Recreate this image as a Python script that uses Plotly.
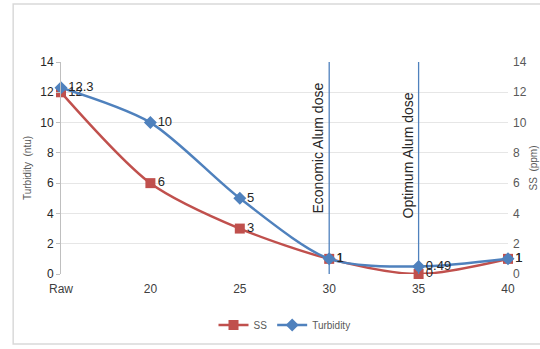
import plotly.graph_objects as go

# Alum dose categories and measured values
doses = ["Raw", "20", "25", "30", "35", "40"]
ss_values = [12, 6, 3, 1, 0, 1]
turbidity_values = [12.3, 10, 5, 1, 0.49, 1]
y_ticks = [0, 2, 4, 6, 8, 10, 12, 14]
dose_lines = [3, 4]
dose_line_labels = ["Economic Alum dose", "Optimum Alum dose"]
dose_label_centres = [8.3, 7.8]

RED = "#c0504d"
BLUE = "#4f81bd"
xs = list(range(len(doses)))

fig = go.Figure()

fig.add_trace(go.Scatter(
    x=xs, y=ss_values, name="SS", mode="lines+markers+text",
    line=dict(color=RED, width=2.5, shape="spline", smoothing=0.8),
    marker=dict(symbol="square", size=10, color=RED),
    text=[str(v) for v in ss_values], textposition="middle right",
    textfont=dict(family="Liberation Sans, Arial", size=13, color="#262626"),
    cliponaxis=False,
))
fig.add_trace(go.Scatter(
    x=xs, y=turbidity_values, name="Turbidity", mode="lines+markers+text",
    line=dict(color=BLUE, width=2.5, shape="spline", smoothing=0.8),
    marker=dict(symbol="diamond", size=10, color=BLUE),
    text=[str(v) for v in turbidity_values], textposition="middle right",
    textfont=dict(family="Liberation Sans, Arial", size=13, color="#262626"),
    cliponaxis=False,
))
# invisible trace to bring the secondary axis to life
fig.add_trace(go.Scatter(x=[0], y=[0], yaxis="y2", mode="markers",
                         marker=dict(opacity=0), showlegend=False, hoverinfo="skip"))

for xv, label, yc in zip(dose_lines, dose_line_labels, dose_label_centres):
    fig.add_shape(type="line", x0=xv, x1=xv, y0=0, y1=14.3, xref="x", yref="y",
                  line=dict(color=BLUE, width=1.3))
    fig.add_annotation(x=xv, y=yc, xref="x", yref="y",
                       text=label, textangle=-90, showarrow=False,
                       xanchor="right", xshift=-1,
                       font=dict(family="Liberation Sans, Arial", size=14, color="#262626"))

# outer chart frame
fig.add_shape(type="rect", xref="paper", yref="paper",
              x0=-0.107, x1=1.3, y0=-0.33, y1=1.274,
              line=dict(color="#d9d9d9", width=1.5), layer="below")

axis_font = dict(family="Liberation Sans, Arial", size=12, color="#404040")

fig.update_layout(
    width=540, height=349,
    margin=dict(l=61, r=32, t=62, b=75, autoexpand=False),
    paper_bgcolor="white", plot_bgcolor="white",
    showlegend=True,
    legend=dict(orientation="h", x=0.50, y=-0.24, xanchor="center", yanchor="middle",
                font=dict(family="Liberation Sans, Arial", size=10, color="#595959"),
                itemwidth=30),
    xaxis=dict(
        tickmode="array", tickvals=xs, ticktext=doses, range=[0, 5],
        showgrid=False, zeroline=False, showline=False, automargin=False,
        tickfont=axis_font, ticks="", ticklabelstandoff=6,
    ),
    yaxis=dict(
        range=[0, 14], tickvals=y_ticks, showgrid=True, gridcolor="#e6e6e6",
        zeroline=False, showline=True, linecolor="#bfbfbf", linewidth=1,
        ticks="outside", ticklen=4, tickcolor="#bfbfbf", automargin=False,
        tickfont=dict(family="Liberation Sans, Arial", size=12, color="#262626"),
        title=dict(text="Turbidity  (ntu)", standoff=6,
                   font=dict(family="Liberation Sans, Arial", size=10, color="#595959")),
    ),
    yaxis2=dict(
        range=[0, 14], tickvals=y_ticks, overlaying="y", side="right",
        showgrid=False, zeroline=False, showline=False, automargin=False,
        ticklabelstandoff=4,
        tickfont=dict(family="Liberation Sans, Arial", size=12, color="#595959"),
        title=dict(text="SS  (ppm)", standoff=4,
                   font=dict(family="Liberation Sans, Arial", size=10, color="#595959")),
    ),
)

fig.write_html("out.html")
